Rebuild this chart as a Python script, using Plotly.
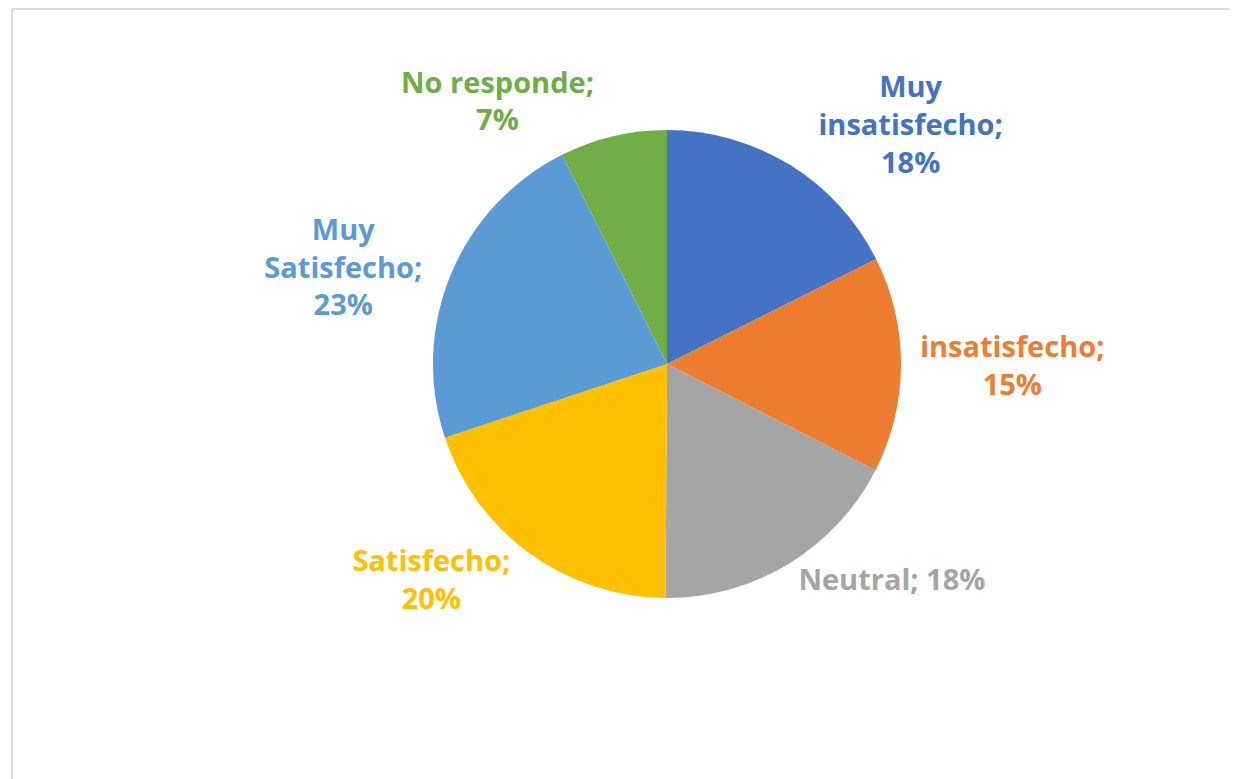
import plotly.graph_objects as go

# Data
categories = ["Muy insatisfecho", "insatisfecho", "Neutral", "Satisfecho", "Muy Satisfecho", "No responde"]
shares = [17.6, 14.9, 17.6, 19.8, 22.7, 7.4]
colors = ["#4472C4", "#ED7D31", "#A5A5A5", "#FFC000", "#5B9BD5", "#70AD47"]
wrapped = ["Muy<br>insatisfecho;<br>", "insatisfecho;<br>", "Neutral; ", "Satisfecho;<br>", "Muy<br>Satisfecho;<br>", "No responde;<br>"]

# page body has an 8px margin, so the figure is sized/placed accordingly
W, H = 1229, 771
cx, cy, r = 659, 356, 234

fig = go.Figure(go.Pie(
    labels=categories,
    values=shares,
    customdata=wrapped,
    sort=False,
    direction="clockwise",
    rotation=0,
    marker=dict(colors=colors, line=dict(width=0)),
    textposition="outside",
    texttemplate="<b>%{customdata}%{percent:.0%}</b>",
    outsidetextfont=dict(family="Open Sans", size=29, color=colors),
    showlegend=False,
    hoverinfo="label+percent",
    domain=dict(x=[(cx - r) / W, (cx + r) / W], y=[(H - cy - r) / H, (H - cy + r) / H]),
))

fig.update_layout(
    width=W, height=H,
    margin=dict(l=0, r=0, t=0, b=0),
    paper_bgcolor="white",
    plot_bgcolor="white",
    shapes=[
        dict(type="line", xref="paper", yref="paper", x0=4 / W, x1=1, y0=1 - 1 / H, y1=1 - 1 / H,
             line=dict(color="#D9D9D9", width=2)),
        dict(type="line", xref="paper", yref="paper", x0=4 / W, x1=4 / W, y0=0, y1=1 - 1 / H,
             line=dict(color="#D9D9D9", width=2)),
    ],
)

fig.write_html("out.html")
